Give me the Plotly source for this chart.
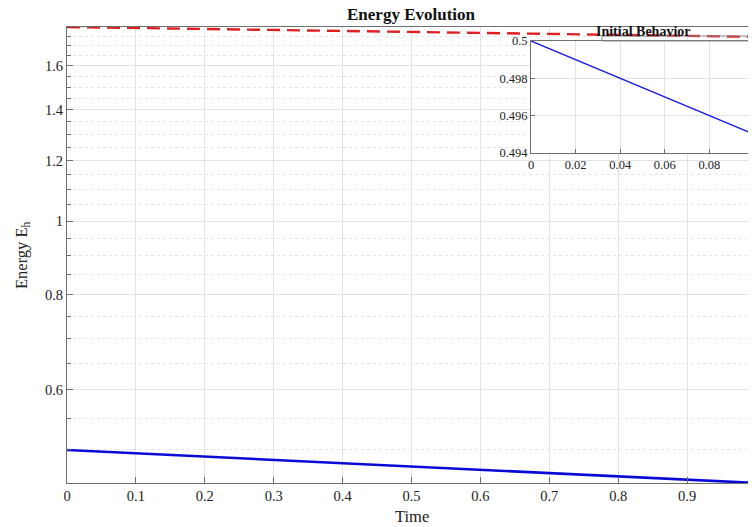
import plotly.graph_objects as go
import math

# ---- data ----
time = [0.0, 0.1, 0.2, 0.3, 0.4, 0.5, 0.6, 0.7, 0.8, 0.9, 1.0]
energy_h = [0.5000, 0.4950, 0.4901, 0.4852, 0.4804, 0.4756, 0.4709, 0.4662, 0.4616, 0.4570, 0.4524]
energy_ref = [1.800, 1.795, 1.789, 1.784, 1.778, 1.773, 1.768, 1.762, 1.757, 1.752, 1.747]

inset_time = [0.0, 0.02, 0.04, 0.06, 0.08, 0.099]
inset_energy = [0.5000, 0.4990, 0.4980, 0.4970, 0.4960, 0.49505]

x_ticks = [0, 0.1, 0.2, 0.3, 0.4, 0.5, 0.6, 0.7, 0.8, 0.9]
x_tick_labels = ["0", "0.1", "0.2", "0.3", "0.4", "0.5", "0.6", "0.7", "0.8", "0.9"]
y_ticks = [0.6, 0.8, 1.0, 1.2, 1.4, 1.6]
y_tick_labels = ["0.6", "0.8", "1", "1.2", "1.4", "1.6"]
y_minor = [0.5, 0.55, 0.65, 0.7, 0.75, 0.85, 0.9, 0.95, 1.05, 1.1, 1.15, 1.25, 1.3, 1.35, 1.45, 1.5, 1.55, 1.65, 1.7, 1.75]
inset_x_ticks = [0, 0.02, 0.04, 0.06, 0.08, 0.1]
inset_x_labels = ["0", "0.02", "0.04", "0.06", "0.08", "0.1"]
inset_y_ticks = [0.494, 0.496, 0.498, 0.5]
inset_y_labels = ["0.494", "0.496", "0.498", "0.5"]

FONT = "Liberation Serif, Times New Roman, serif"
AXC = "#6f6f6f"
GRID = "#e3e3e3"

OFF = 8  # page body margin
W, H = 756 - OFF, 527 - OFF
# page-pixel plot box: left 67, right 756, top 27, bottom 483
L, R, T, B = 67 - OFF, 0, 27 - OFF, H - (483 - OFF)
pw, ph = W - L - R, H - T - B

def px_x(p):
    return (p - OFF - L) / pw

def px_y(p):
    return (H - B - (p - OFF)) / ph

fig = go.Figure()

fig.add_trace(go.Scatter(x=time, y=energy_h, mode="lines",
                         line=dict(color="#0a0ad6", width=2.6),
                         xaxis="x", yaxis="y", showlegend=False))
fig.add_trace(go.Scatter(x=time, y=energy_ref, mode="lines",
                         line=dict(color="#e02020", width=2.4, dash="13px,7px"),
                         xaxis="x", yaxis="y", showlegend=False))
fig.add_trace(go.Scatter(x=inset_time, y=inset_energy, mode="lines",
                         line=dict(color="#1a1ae0", width=1.4),
                         xaxis="x2", yaxis="y2", showlegend=False))

ix0, ix1 = px_x(531), px_x(754)
iy0, iy1 = px_y(153), px_y(41)

fig.update_layout(
    width=W, height=H,
    margin=dict(l=L, r=R, t=T, b=B),
    paper_bgcolor="white", plot_bgcolor="white",
    font=dict(family=FONT, color="#222222", size=14.5),
    xaxis=dict(range=[0, 1], domain=[0, 1], tickmode="array", tickvals=x_ticks, ticktext=x_tick_labels,
               ticks="inside", ticklen=6, tickcolor=AXC, showline=True, linecolor=AXC, linewidth=1,
               mirror=True, showgrid=True, gridcolor=GRID, gridwidth=1, zeroline=False,
               tickfont=dict(size=14.5, family=FONT, color="#222")),
    yaxis=dict(type="log", range=[math.log10(0.4524), math.log10(1.8)], domain=[0, 1],
               tickmode="array", tickvals=y_ticks, ticktext=y_tick_labels,
               ticks="inside", ticklen=6, tickcolor=AXC, showline=True, linecolor=AXC, linewidth=1,
               mirror=False, showgrid=True, gridcolor=GRID, gridwidth=1, zeroline=False,
               tickfont=dict(size=14.5, family=FONT, color="#222"),
               minor=dict(tickmode="array", tickvals=y_minor, ticks="inside", ticklen=3.5,
                          tickcolor=AXC, showgrid=True, gridcolor="#e6e6e6", griddash="dot", gridwidth=1)),
    xaxis2=dict(range=[0, 0.1], domain=[ix0, ix1], anchor="y2", tickmode="array",
                tickvals=inset_x_ticks, ticktext=inset_x_labels,
                ticks="inside", ticklen=4, tickcolor=AXC, showline=True, linecolor=AXC, linewidth=1,
                mirror=True, showgrid=True, gridcolor=GRID, zeroline=False,
                tickfont=dict(size=12.5, family=FONT, color="#222")),
    yaxis2=dict(range=[0.494, 0.5], domain=[iy0, iy1], anchor="x2", tickmode="array",
                tickvals=inset_y_ticks, ticktext=inset_y_labels,
                ticks="inside", ticklen=4, tickcolor=AXC, showline=True, linecolor=AXC, linewidth=1,
                mirror=True, showgrid=True, gridcolor=GRID, zeroline=False,
                tickfont=dict(size=12.5, family=FONT, color="#222")),
    shapes=[
        # white background of the inset (drawn in the inset's own lower shape layer)
        dict(type="rect", xref="x2", yref="y2", x0=0, x1=0.1, y0=0.494, y1=0.5,
             fillcolor="white", line=dict(width=0), layer="below"),
        # thin title box above the inset
        dict(type="rect", xref="paper", yref="paper", x0=px_x(602), x1=px_x(750),
             y0=px_y(41), y1=px_y(36), line=dict(color="#8a8a8a", width=1), fillcolor="rgba(0,0,0,0)",
             layer="above"),
    ],
    annotations=[
        dict(text="<b>Energy Evolution</b>", xref="paper", yref="paper", x=0.5, y=px_y(15),
             xanchor="center", yanchor="middle", showarrow=False,
             font=dict(size=17, family=FONT, color="#111")),
        dict(text="<b>Initial Behavior</b>", xref="paper", yref="paper", x=px_x(643), y=px_y(31),
             xanchor="center", yanchor="middle", showarrow=False,
             font=dict(size=14, family=FONT, color="#111")),
        dict(text="Time", xref="paper", yref="paper", x=0.5, y=px_y(517),
             xanchor="center", yanchor="middle", showarrow=False,
             font=dict(size=16.5, family=FONT, color="#222")),
        dict(text="Energy E<sub>h</sub>", xref="paper", yref="paper", x=px_x(22), y=px_y(255),
             xanchor="center", yanchor="middle", showarrow=False, textangle=-90,
             font=dict(size=16.5, family=FONT, color="#222")),
    ],
)

fig.write_html("out.html")
